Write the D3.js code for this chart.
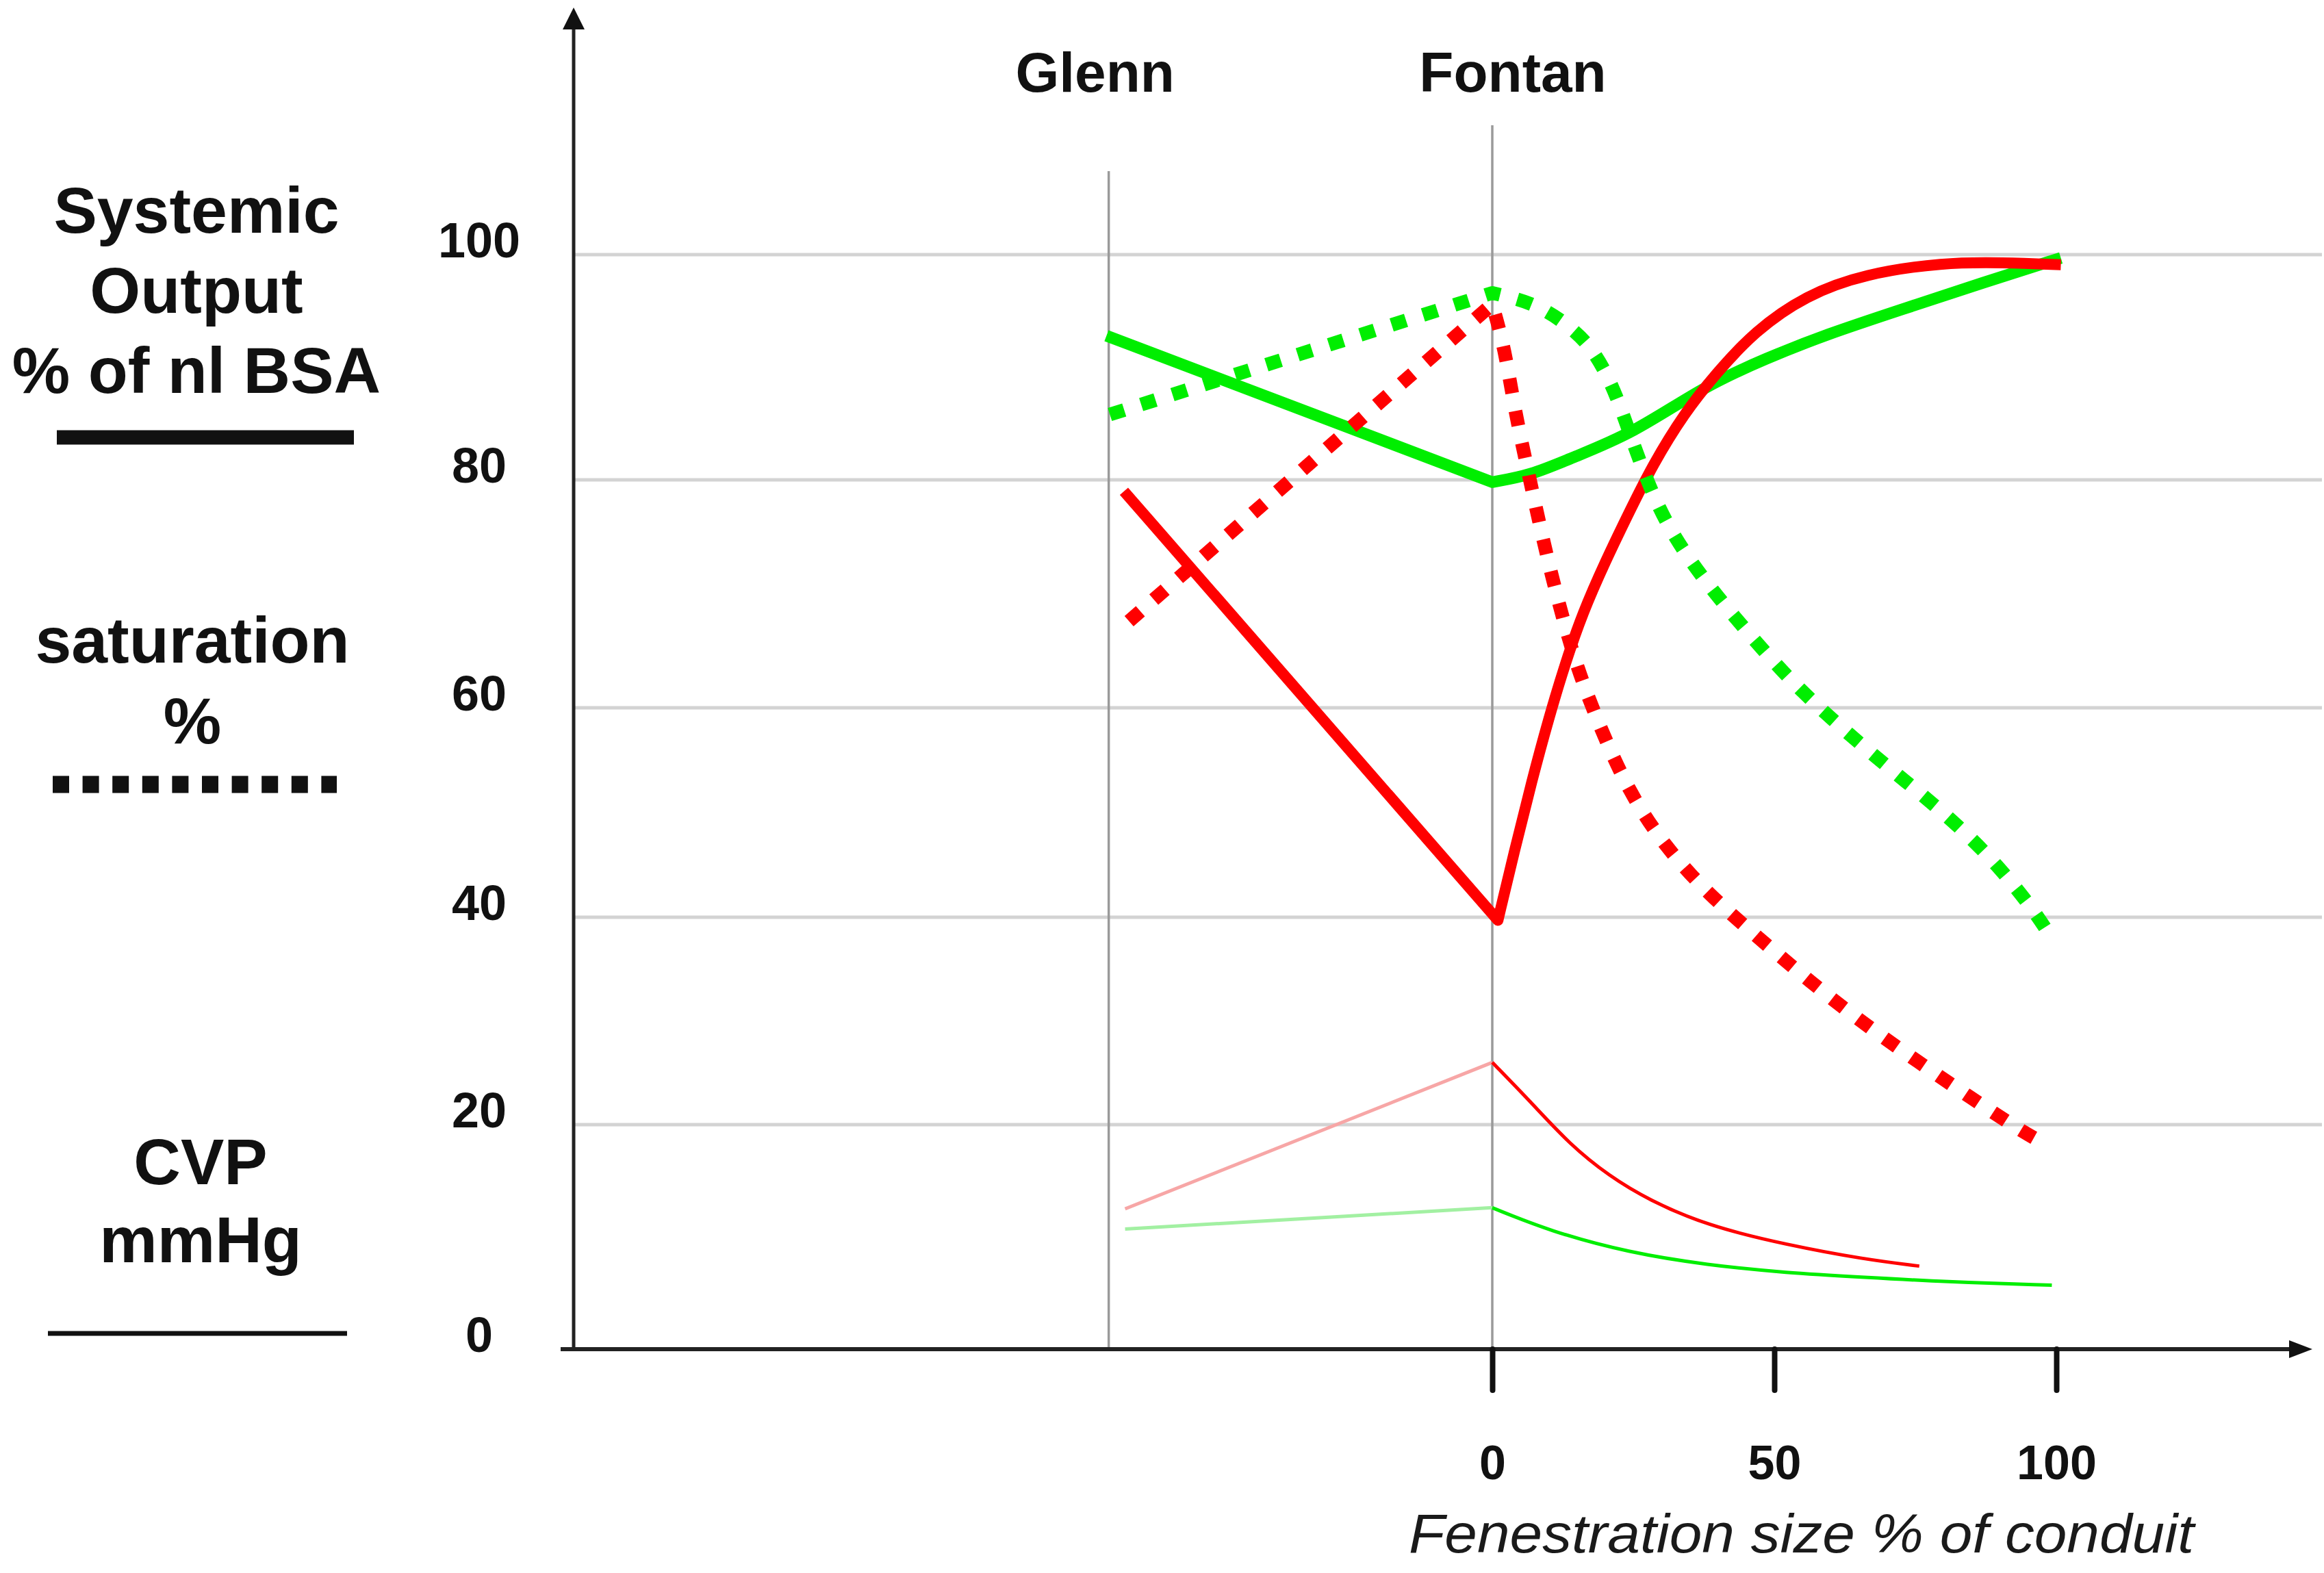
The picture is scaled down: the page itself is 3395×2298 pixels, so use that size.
<!DOCTYPE html>
<html><head><meta charset="utf-8">
<script src="https://cdn.jsdelivr.net/npm/d3@7"></script>
<style>html,body{margin:0;padding:0;background:#fff;} svg{display:block;}</style>
</head><body>
<svg id="chart" width="3395" height="2298"></svg>
<script>
// ================= DATA =================
const stageNames = ["Glenn", "Fontan"];
const stagePositions = [-68, 0];          // Glenn sits left of fenestration 0
const xTickValues = [0, 50, 100];
const yTickValues = [0, 20, 40, 60, 80, 100];
const xAxisTitle = "Fenestration size % of conduit";
const legendOutputLabel = ["Systemic", "Output", "% of nl BSA"];
const legendSatLabel = ["saturation", "%"];
const legendCvpLabel = ["CVP", "mmHg"];

// Systemic output (thick solid) – [fenestration position, value]
const outputGreenPre  = [[-68.4, 92.8], [0, 79.8]];
const outputGreenPost = [[0, 79.8], [6.8, 80.4], [13.8, 81.9], [24.9, 84.1], [37.5, 88.3], [48.6, 90.8],
                         [59.1, 92.9], [73, 95.2], [86.9, 97.5], [100.8, 99.7]];
const outputRedPre  = [[-65.3, 79.0], [1, 39.7]];
const outputRedPost = [[1, 39.7], [4, 46.5], [7, 53.0], [10, 59.0], [13, 64.0], [16, 68.3], [20, 72.8],
                       [24.3, 77.2], [28.4, 81.3], [34, 85.9], [39.6, 89.4], [46.5, 93.2], [55.6, 96.4],
                       [66, 98.3], [80, 99.3], [90.4, 99.3], [100.8, 99.1]];

// Saturation (dotted)
const satGreenPre  = [[-67.8, 85.8], [0, 96.6]];
const satGreenPost = [[0, 96.6], [7.5, 95.7], [13.1, 93.9], [17.2, 92.0], [20, 89.7], [22.5, 86.9],
                      [26.3, 81.3], [30.8, 76.0], [37.5, 71.2], [45.1, 66.7], [52.8, 62.4], [61.2, 58.4],
                      [70.2, 54.3], [79.2, 50.4], [88, 46.0], [95.6, 41.0], [98.8, 38.3]];
const satRedPre  = [[-64.4, 67.6], [0, 95.6]];
const satRedPost = [[0, 95.6], [2.2, 91.7], [4, 86.1], [6.5, 80.4], [9, 74.7], [11.8, 69.1], [15, 63.5],
                    [19.2, 58.0], [24.2, 52.0], [30.5, 46.8], [38.5, 42.1], [47.2, 38.0], [56.3, 33.8],
                    [65.7, 29.8], [75.1, 26.2], [84.8, 22.6], [94.5, 19.2], [98.4, 18.2]];

// CVP (thin solid)
const cvpRedPre  = [[-65.1, 12.5], [0, 26.0]];
const cvpRedPost = [[0, 26.0], [6.8, 22.2], [13.8, 18.2], [20.8, 15.4], [27.7, 13.3], [38.1, 11.0],
                    [52.1, 9.3], [66, 8.0], [75.7, 7.4]];
const cvpGreenPre  = [[-65.1, 10.7], [0, 12.6]];
const cvpGreenPost = [[0, 12.6], [10.3, 10.5], [24.2, 8.6], [38.1, 7.5], [52.1, 6.8], [66, 6.4],
                      [80, 6.0], [99.2, 5.7]];

// ================= LAYOUT =================
const RED = "#ff0000", GREEN = "#00ee00", PINK = "#f7a6a6", LGREEN = "#a2f0a2";
const FONT = "'Liberation Sans', Arial, Helvetica, sans-serif";
const svg = d3.select("#chart");
const x = d3.scaleLinear().domain([0, 100]).range([2180, 3004]);
const y = d3.scaleLinear().domain(yTickValues).range([1971, 1643, 1340, 1034, 701, 372]);
const axisX = 838, gridRight = 3392;

svg.append("rect").attr("width", 3395).attr("height", 2298).attr("fill", "#fff");

// grid lines
svg.append("g").selectAll("line").data(yTickValues.filter(d => d > 0)).join("line")
  .attr("x1", axisX).attr("x2", gridRight)
  .attr("y1", d => y(d)).attr("y2", d => y(d))
  .attr("stroke", "#d3d3d3").attr("stroke-width", 5);

// stage vertical lines + labels
const stageTop = [250, 183];
svg.append("g").selectAll("line").data(stagePositions).join("line")
  .attr("x1", d => x(d)).attr("x2", d => x(d))
  .attr("y1", (d, i) => stageTop[i]).attr("y2", y(0))
  .attr("stroke", "#9a9a9a").attr("stroke-width", 3.5);
svg.append("g").selectAll("text").data(stageNames).join("text")
  .attr("x", (d, i) => x(stagePositions[i]) + (i === 0 ? -20 : 30)).attr("y", 134)
  .attr("text-anchor", "middle").attr("font-family", FONT).attr("font-weight", "bold")
  .attr("font-size", 82).attr("fill", "#111").text(d => d);

// y axis with arrow
svg.append("line").attr("x1", axisX).attr("x2", axisX).attr("y1", y(0)).attr("y2", 35)
  .attr("stroke", "#222").attr("stroke-width", 5);
svg.append("path").attr("d", `M${axisX},11 L${axisX - 16},43 L${axisX + 16},43 Z`).attr("fill", "#111");
// x axis with arrow
svg.append("line").attr("x1", 819).attr("x2", 3350).attr("y1", y(0)).attr("y2", y(0))
  .attr("stroke", "#222").attr("stroke-width", 6);
svg.append("path").attr("d", `M3378,${y(0)} L3344,${y(0) - 13} L3344,${y(0) + 13} Z`).attr("fill", "#111");

// x ticks via d3 axis
const xAxisG = svg.append("g").attr("transform", `translate(0,${y(0)})`)
  .call(d3.axisBottom(x).tickValues(xTickValues).tickSize(60).tickPadding(80));
xAxisG.select(".domain").remove();
xAxisG.selectAll(".tick line").attr("stroke", "#111").attr("stroke-width", 8).attr("stroke-linecap", "round");
xAxisG.selectAll(".tick text").attr("font-family", FONT).attr("font-weight", "bold")
  .attr("font-size", 70).attr("fill", "#111");

// y tick labels
svg.append("g").selectAll("text").data(yTickValues).join("text")
  .attr("x", 700).attr("y", d => y(d) + 4).attr("text-anchor", "middle")
  .attr("font-family", FONT).attr("font-weight", "bold").attr("font-size", 72).attr("fill", "#111")
  .text(d => d);

// x axis title
svg.append("text").attr("x", 2058).attr("y", 2268).attr("font-family", FONT).attr("font-style", "italic")
  .attr("font-size", 80).attr("textLength", 1147).attr("lengthAdjust", "spacingAndGlyphs")
  .attr("fill", "#1a1a1a").text(xAxisTitle);

// curves
const lin = d3.line().x(d => x(d[0])).y(d => y(d[1]));
const crv = d3.line().x(d => x(d[0])).y(d => y(d[1])).curve(d3.curveBasis);
const joined = (pre, post) => lin(pre) + "L" + crv(post).slice(1);

function draw(d, color, w, dash) {
  const p = svg.append("path").attr("d", d).attr("fill", "none").attr("stroke", color)
    .attr("stroke-width", w).attr("stroke-linejoin", "round");
  if (dash) p.attr("stroke-dasharray", dash);
  return p;
}
// CVP
draw(lin(cvpRedPre), PINK, 5);
draw(lin(cvpGreenPre), LGREEN, 5);
draw(crv(cvpGreenPost), GREEN, 5);
draw(crv(cvpRedPost), RED, 5);
// output + saturation
draw(joined(outputGreenPre, outputGreenPost), GREEN, 17);
draw(joined(satRedPre, satRedPost), RED, 20, "22 26");
draw(joined(outputRedPre, outputRedPost), RED, 16);
draw(joined(satGreenPre, satGreenPost), GREEN, 20, "22 26");

// ---- legend on the left ----
const lg = svg.append("g").attr("font-family", FONT).attr("font-weight", "bold").attr("fill", "#111")
  .attr("text-anchor", "middle").attr("font-size", 95);
lg.selectAll("text.o").data(legendOutputLabel).join("text").attr("class", "o")
  .attr("x", 287).attr("y", (d, i) => 340 + i * 117).text(d => d);
lg.append("line").attr("x1", 83).attr("x2", 517).attr("y1", 639).attr("y2", 639)
  .attr("stroke", "#111").attr("stroke-width", 21);
lg.selectAll("text.s").data(legendSatLabel).join("text").attr("class", "s")
  .attr("x", 281).attr("y", (d, i) => 968 + i * 118).text(d => d);
lg.append("line").attr("x1", 77).attr("x2", 492).attr("y1", 1146).attr("y2", 1146)
  .attr("stroke", "#111").attr("stroke-width", 25).attr("stroke-dasharray", "24 19.6");
lg.selectAll("text.c").data(legendCvpLabel).join("text").attr("class", "c")
  .attr("x", 293).attr("y", (d, i) => 1730 + i * 114).text(d => d);
lg.append("line").attr("x1", 70).attr("x2", 507).attr("y1", 1948).attr("y2", 1948)
  .attr("stroke", "#111").attr("stroke-width", 7);
</script>
</body></html>
